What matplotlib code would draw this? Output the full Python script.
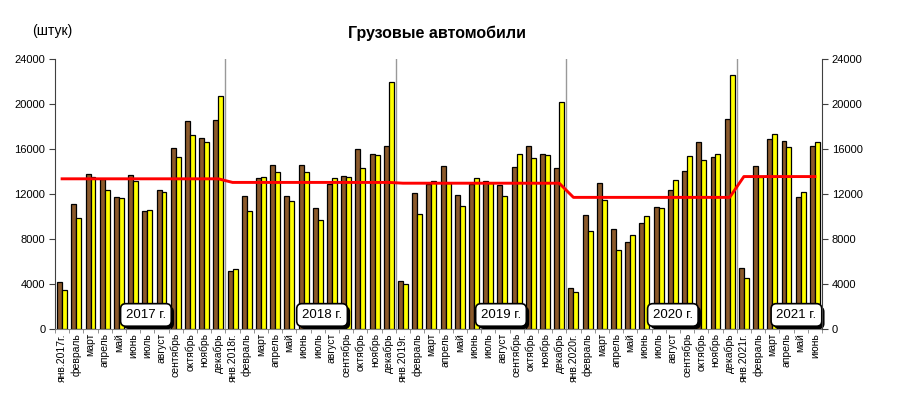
import numpy as np
import matplotlib.pyplot as plt
import matplotlib.patheffects as pe

plt.rcParams['font.family'] = ['Liberation Sans', 'DejaVu Sans']

# подписи месяцев
month_names = ['февраль', 'март', 'апрель', 'май', 'июнь', 'июль', 'август',
               'сентябрь', 'октябрь', 'ноябрь', 'декабрь']
labels = []
for yr in [2017, 2018, 2019, 2020]:
    labels += ['янв.%dг.' % yr] + month_names
labels += ['янв.2021г.'] + month_names[:5]

# коричневые столбцы
bars_brown = [4200, 11100, 13750, 13350, 11700, 13650, 10450, 12350, 16100, 18500, 17000, 18550,
              5200, 11850, 13450, 14550, 11850, 14600, 10750, 12900, 13600, 16000, 15600, 16250,
              4300, 12050, 12900, 14500, 11950, 12900, 13200, 12800, 14400, 16250, 15600, 14350,
              3650, 10150, 13000, 8900, 7700, 9400, 10850, 12350, 14050, 16650, 15300, 18650,
              5400, 14450, 16900, 16750, 11700, 16250]
# жёлтые столбцы
bars_yellow = [3450, 9900, 13550, 12400, 11650, 13200, 10550, 12200, 15250, 17250, 16650, 20700,
               5300, 10450, 13500, 13950, 11400, 14000, 9650, 13400, 13500, 14350, 15500, 22000,
               4000, 10250, 13200, 12950, 10950, 13400, 13000, 11850, 15600, 15200, 15450, 20150,
               3250, 8750, 11450, 7050, 8350, 10050, 10750, 13250, 15350, 15000, 15550, 22550,
               4500, 13500, 17300, 16150, 12200, 16600]

# среднее за год (красная линия)
year_names = ['2017 г.', '2018 г.', '2019 г.', '2020 г.', '2021 г.']
year_avg = [13350, 13030, 12960, 11700, 13550]
months_in_year = [12, 12, 12, 12, 6]

x = np.arange(len(labels))
avg_line = np.repeat(year_avg, months_in_year)

fig = plt.figure(figsize=(8.97, 3.93), dpi=100)
ax = fig.add_axes([55 / 897, 1 - 329 / 393, 767 / 897, 270 / 393])

w = 0.35
ax.bar(x - w / 2, bars_brown, width=w, color='#8B5A2B', edgecolor='black', linewidth=0.9, zorder=2)
ax.bar(x + w / 2, bars_yellow, width=w, color='#FFFF00', edgecolor='black', linewidth=0.9, zorder=2)
ax.plot(x, avg_line, color='#FF0000', linewidth=2.1, zorder=4)

for b in [11.5, 23.5, 35.5, 47.5]:
    ax.axvline(b, color='#999999', linewidth=1, zorder=1)

ax.set_xlim(-0.5, len(labels) - 0.5)
ax.set_ylim(0, 24000)
ax.set_yticks(range(0, 24001, 4000))
ax.tick_params(axis='y', labelsize=8, length=4, color='#404040', pad=3)
ax.set_xticks(x)
ax.set_xticklabels(labels, rotation=90, fontsize=7.5)
ax.tick_params(axis='x', which='major', length=0, pad=3)
ax.set_xticks(np.arange(-0.5, len(labels), 1), minor=True)
ax.tick_params(axis='x', which='minor', length=3, color='#808080')

for s in ['top', 'right']:
    ax.spines[s].set_visible(False)
ax.spines['left'].set_color('#404040')
ax.spines['bottom'].set_color('#808080')

ax2 = ax.twinx()
ax2.set_ylim(0, 24000)
ax2.set_yticks(range(0, 24001, 4000))
ax2.tick_params(axis='y', labelsize=8, length=4, color='#404040', pad=3)
for s in ['top', 'left', 'bottom']:
    ax2.spines[s].set_visible(False)
ax2.spines['right'].set_color('#404040')

# подписи годов в рамках с тенью
year_pos = [5.9, 18.3, 30.9, 43.0, 51.7]
for xp, t in zip(year_pos, year_names):
    txt = ax.text(xp, 1250, t, ha='center', va='center', fontsize=9.5, zorder=6,
                  bbox=dict(boxstyle='round,pad=0.4', fc='white', ec='black', lw=1.2))
    txt.get_bbox_patch().set_path_effects([
        pe.SimplePatchShadow(offset=(2, -2), shadow_rgbFace='black', alpha=1),
        pe.Normal()])

fig.text(437 / 897, 1 - 33 / 393, 'Грузовые автомобили', ha='center', va='center',
         fontsize=11.5, fontweight='bold')
fig.text(32 / 897, 1 - 31 / 393, '(штук)', ha='left', va='center', fontsize=10)

fig.savefig('out.png', dpi=100)
